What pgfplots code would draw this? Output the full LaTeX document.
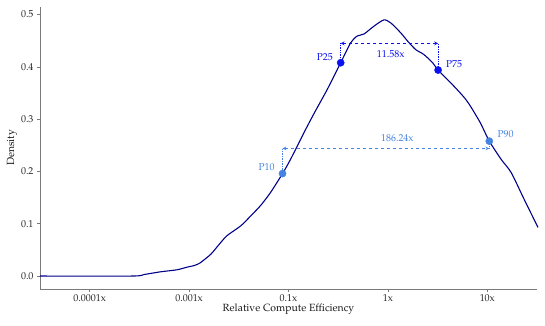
\documentclass[border=0pt]{standalone}
\usepackage[T1]{fontenc}
\usepackage{mathpazo}
\usepackage{pgfplots}
\pgfplotsset{compat=1.18}

\definecolor{curvecol}{HTML}{00008B}
\definecolor{pmid}{HTML}{0A10F0}
\definecolor{pouter}{HTML}{4583E0}
\definecolor{axcol}{HTML}{7A7A7A}

\begin{document}
\begin{tikzpicture}
\begin{axis}[
    name=ax,
    scale only axis,
    width=497bp, height=282bp,
    xmin=-0.5, xmax=4.5,
    ymin=-0.0248, ymax=0.5146,
    axis lines*=left,
    axis line style={axcol, line width=0.9pt},
    tick style={axcol, line width=0.6pt},
    tick align=outside,
    major tick length=3bp,
    xtick={0,1,2,3,4},
    xticklabels={0.0001x, 0.001x, 0.1x, 1x, 10x},
    ytick={0,0.1,0.2,0.3,0.4,0.5},
    yticklabel style={/pgf/number format/.cd, fixed, fixed zerofill, precision=1, assume math mode=true},
    ticklabel style={font=\fontsize{10}{11}\selectfont, text=black!85},
    xticklabel style={yshift=1bp},
    xlabel={Relative Compute Efficiency},
    ylabel={Density},
    label style={font=\fontsize{10.5}{12}\selectfont, text=black!90},
    xlabel style={yshift=5bp},
    ylabel style={yshift=-3bp},
    clip=false,
]
% density curve
\addplot[curvecol, line width=1.1pt, smooth, tension=0.4] coordinates {
    (-0.5,0.0) (0.43,0.0) (0.55,0.003) (0.71,0.008) (0.88,0.012) (0.98,0.017)
    (1.05,0.020) (1.11,0.025) (1.22,0.042) (1.30,0.060) (1.38,0.077) (1.52,0.096)
    (1.62,0.115) (1.72,0.135) (1.82,0.160) (1.94,0.196) (2.02,0.223) (2.155,0.274)
    (2.26,0.312) (2.39,0.357) (2.525,0.408) (2.625,0.446) (2.69,0.459) (2.76,0.463)
    (2.86,0.478) (2.96,0.490) (3.03,0.484) (3.13,0.465) (3.20,0.449) (3.28,0.433)
    (3.36,0.424) (3.45,0.408) (3.505,0.394) (3.665,0.363) (3.77,0.341) (3.83,0.325)
    (3.93,0.293) (4.02,0.258) (4.14,0.223) (4.24,0.198) (4.37,0.147) (4.51,0.093)
};
% P25 - P75 span
\addplot[pmid, densely dotted, line width=0.7pt] coordinates {(2.525,0.408) (2.525,0.445)};
\addplot[pmid, densely dotted, line width=0.7pt] coordinates {(3.505,0.394) (3.505,0.445)};
\addplot[pmid, dashed, line width=0.7pt, <->, >=stealth] coordinates {(2.525,0.445) (3.505,0.445)};
% P10 - P90 span
\addplot[pouter, densely dotted, line width=0.7pt] coordinates {(1.94,0.196) (1.94,0.244)};
\addplot[pouter, densely dotted, line width=0.7pt] coordinates {(4.02,0.244) (4.02,0.258)};
\addplot[pouter, dashed, line width=0.7pt, <->, >=stealth] coordinates {(1.94,0.244) (4.02,0.244)};
% percentile points
\addplot[only marks, mark=*, mark size=3.6bp, pmid] coordinates {(2.525,0.408) (3.505,0.394)};
\addplot[only marks, mark=*, mark size=3.6bp, pouter] coordinates {(1.94,0.196) (4.02,0.258)};
% labels
\node[pmid, font=\fontsize{10}{11}\selectfont] at (axis cs:2.365,0.419) {P25};
\node[pmid, font=\fontsize{10}{11}\selectfont] at (axis cs:3.665,0.406) {P75};
\node[pouter, font=\fontsize{10}{11}\selectfont] at (axis cs:1.78,0.208) {P10};
\node[pouter, font=\fontsize{10}{11}\selectfont] at (axis cs:4.185,0.271) {P90};
\node[pmid, font=\fontsize{10}{11}\selectfont] at (axis cs:3.028,0.424) {11.58x};
\node[pouter, font=\fontsize{10}{11}\selectfont] at (axis cs:3.095,0.263) {186.24x};
\end{axis}
\path[use as bounding box] ([shift={(-40bp,-37bp)}]ax.south west) rectangle ([shift={(8bp,7bp)}]ax.north east);
\end{tikzpicture}
\end{document}
